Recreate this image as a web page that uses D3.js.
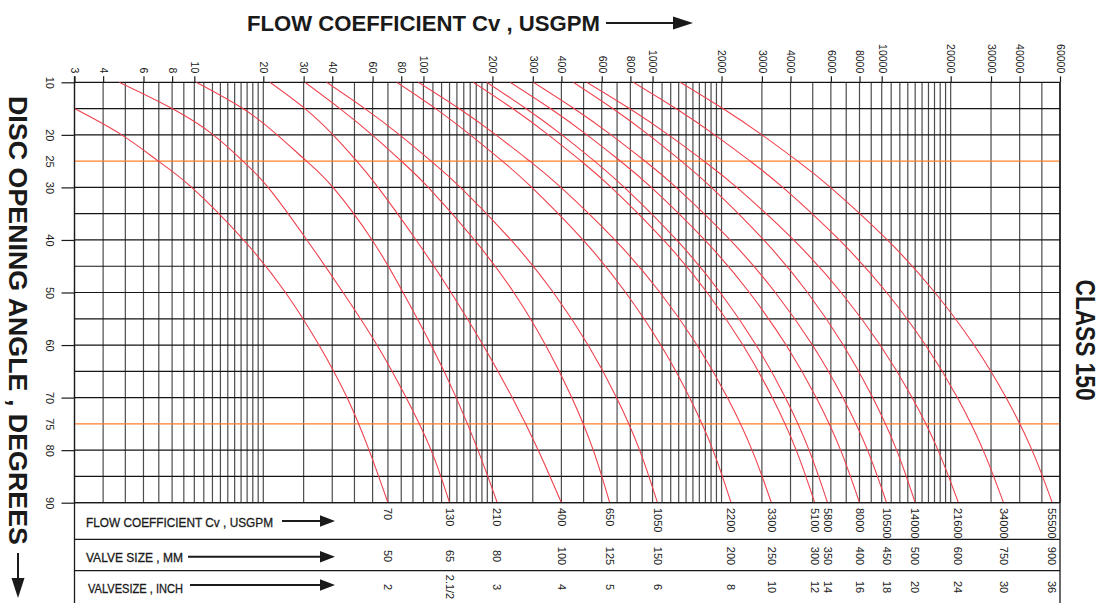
<!DOCTYPE html>
<html><head><meta charset="utf-8">
<script src="https://cdn.jsdelivr.net/npm/d3@7"></script>
<style>
html,body{margin:0;padding:0;background:#fff;}
svg{display:block;}
text{font-family:"Liberation Sans", Arial, Helvetica, sans-serif; fill:#1a1a1a;}
</style></head><body>
<svg id="chart" width="1105" height="603"></svg>
<script>
// ---- data ----
const ANGLES = [10, 15, 20, 25, 30, 40, 50, 60, 70, 80, 90];   // disc opening angle, degrees
// Cv (USGPM) of each valve size at the angles above
const cv70    = [null, 3.0, 4.82, 6.97, 9.74, 16.4, 25.0, 35.0, 46.4, 57.9, 70];
const cv130   = [4.7, 8.0, 12.1, 16.3, 21.0, 31.0, 44.6, 62.7, 84.0, 108, 130];
const cv210   = [10.2, 16.3, 23.0, 30.9, 40.3, 59.7, 81.5, 108, 139, 173, 210];
const cv400   = [21.4, 30.4, 40.3, 51.2, 63.4, 92.9, 132, 182, 244, 317, 400];
const cv650   = [30.4, 43.2, 59.7, 80.1, 105, 167, 248, 341, 444, 551, 650];
const cv1050  = [37.8, 55.5, 78.7, 108, 145, 241, 369, 523, 696, 878, 1050];
const cv2200  = [76.5, 113, 160, 221, 297, 497, 763, 1086, 1450, 1835, 2200];
const cv3300  = [95, 143, 207, 291, 398, 685, 1078, 1563, 2121, 2718, 3300];
const cv5100  = [165, 245, 351, 488, 660, 1115, 1730, 2479, 3330, 4235, 5100];
const cv5800  = [189, 280, 402, 558, 753, 1273, 1973, 2827, 3795, 4821, 5800];
const cv8000  = [239, 358, 517, 724, 987, 1688, 2646, 3826, 5177, 6617, 8000];
const cv10500 = [302, 454, 659, 927, 1267, 2179, 3433, 4984, 6765, 8673, 10500];
const cv14000 = [451, 670, 961, 1336, 1806, 3055, 4745, 6797, 9135, 11620, 14000];
const cv21600 = [516, 793, 1173, 1678, 2331, 4126, 6651, 9842, 13572, 17612, 21600];
const cv34000 = [824, 1264, 1867, 2667, 3702, 6532, 10505, 15533, 21385, 27712, 34000];
const cv55500 = [1320, 2027, 3000, 4300, 5972, 10580, 17067, 25290, 34884, 45304, 55500];
const SERIES = [cv70, cv130, cv210, cv400, cv650, cv1050, cv2200, cv3300, cv5100,
                cv5800, cv8000, cv10500, cv14000, cv21600, cv34000, cv55500];

// bottom table
const CV_FULL   = [70, 130, 210, 400, 650, 1050, 2200, 3300, 5100, 5800, 8000, 10500, 14000, 21600, 34000, 55500];
const SIZE_MM   = ["50","65","80","100","125","150","200","250","300","350","400","450","500","600","750","900"];
const SIZE_INCH = ["2","2.1/2","3","4","5","6","8","10","12","14","16","18","20","24","30","36"];

// axes
const X_TICKS = [3,4,6,8,10,20,30,40,60,80,100,200,300,400,600,800,1000,2000,3000,4000,6000,8000,10000,20000,30000,40000,60000];
const Y_TICKS = [10,20,25,30,40,50,60,70,75,80,90];
const Y_MAJOR = [10,20,30,40,50,60,70,80,90];
const ORANGE_ANGLES = [25, 75];

const TITLE_X = "FLOW COEFFICIENT Cv , USGPM";
const TITLE_Y = "DISC OPENING ANGLE , DEGREES";
const CLASS_LABEL = "CLASS 150";
const ROW_LABELS = ["FLOW COEFFICIENT Cv , USGPM", "VALVE SIZE , MM", "VALVESIZE , INCH"];

// ---- drawing ----
const svg = d3.select("#chart");
const L = 74.5, R = 1060, T = 82.3, B = 502.7;
const ROW1 = 539.3, ROW2 = 570.7, BOTTOM = 603;
const x = d3.scaleLog().domain([3, 60000]).range([L, R]);
const y = d3.scaleLinear().domain([10, 90]).range([T, B]);

const GRID = "#4d4d4d", HGRID = "#151515", RED = "#f0404c", ORANGE = "#ff7f2a", INK = "#1a1a1a";

// vertical grid (log minor lines, finer between 1 and 2 of each decade)
const gridX = [];
[1, 10, 100, 1000, 10000].forEach(dec => {
  for (let k = 1; k <= 9; k++) gridX.push(k * dec);
  for (let k = 11; k <= 19; k++) gridX.push(k * dec / 10);
});
gridX.push(60000);
const gx = gridX.filter(v => v >= 3 && v <= 60000);

svg.append("g").selectAll("line").data(gx).join("line")
  .attr("x1", d => x(d)).attr("x2", d => x(d))
  .attr("y1", T).attr("y2", B)
  .attr("stroke", GRID).attr("stroke-width", 1.2);

// horizontal grid every 5 degrees
const hgrid = d3.range(10, 91, 5);
svg.append("g").selectAll("line").data(hgrid).join("line")
  .attr("x1", L).attr("x2", R)
  .attr("y1", d => y(d)).attr("y2", d => y(d))
  .attr("stroke", d => ORANGE_ANGLES.includes(d) ? ORANGE : HGRID)
  .attr("stroke-width", 1.2);

// top axis
const ax = svg.append("g").attr("transform", `translate(0,${T})`)
  .call(d3.axisTop(x).tickValues(X_TICKS).tickSize(6).tickSizeOuter(0).tickFormat(d3.format("d")));
ax.select(".domain").remove();
ax.selectAll(".tick line").attr("stroke", INK).attr("stroke-width", 1.2);
ax.selectAll(".tick text")
  .attr("transform", "rotate(90)")
  .attr("x", -9).attr("y", 0).attr("dy", "0.35em")
  .attr("text-anchor", "end")
  .style("font-size", "10.5px").style("font-family", "Liberation Sans, Arial, sans-serif").attr("fill", INK);

// left axis
const ay = svg.append("g").attr("transform", `translate(${L},0)`)
  .call(d3.axisLeft(y).tickValues(Y_TICKS).tickSize(13).tickSizeOuter(0));
ay.select(".domain").remove();
ay.selectAll(".tick line").attr("stroke", INK).attr("stroke-width", 1.2)
  .attr("x2", d => Y_MAJOR.includes(d) ? -13 : 0);
ay.selectAll(".tick text")
  .attr("transform", "rotate(90)")
  .attr("x", 0).attr("y", 24.5).attr("dy", "0.35em")
  .attr("text-anchor", "middle")
  .style("font-size", "11px").style("font-family", "Liberation Sans, Arial, sans-serif").attr("fill", INK);

// curves
svg.append("clipPath").attr("id", "plot").append("rect")
  .attr("x", L).attr("y", T).attr("width", R - L).attr("height", B - T);
const line = d3.line()
  .x(d => x(d.cv)).y(d => y(d.a))
  .curve(d3.curveNatural);
svg.append("g").attr("clip-path", "url(#plot)")
  .selectAll("path")
  .data(SERIES.map(s => s.map((v, i) => ({a: ANGLES[i], cv: v})).filter(p => p.cv != null)))
  .join("path")
  .attr("d", line)
  .attr("fill", "none").attr("stroke", RED).attr("stroke-width", 1.1);

// frame and table lines
const frame = svg.append("g").attr("stroke", INK).attr("stroke-width", 1.3);
frame.append("line").attr("x1", L).attr("x2", L).attr("y1", T - 6).attr("y2", BOTTOM);
frame.append("line").attr("x1", R).attr("x2", R).attr("y1", T).attr("y2", BOTTOM);
[B, ROW1, ROW2].forEach(yy => frame.append("line").attr("x1", L).attr("x2", R).attr("y1", yy).attr("y2", yy));

// arrow helper
function arrow(g, x1, y1, x2, y2, head, half) {
  const ang = Math.atan2(y2 - y1, x2 - x1);
  const bx = x2 - head * Math.cos(ang), by = y2 - head * Math.sin(ang);
  g.append("line").attr("x1", x1).attr("y1", y1).attr("x2", bx).attr("y2", by)
    .attr("stroke", INK).attr("stroke-width", 2);
  const px = -Math.sin(ang) * half, py = Math.cos(ang) * half;
  g.append("path").attr("d", `M${x2},${y2}L${bx + px},${by + py}L${bx - px},${by - py}Z`).attr("fill", INK);
}

// table row labels
const rowLabelY = [527, 561.5, 593];
const rowArrowY = [521, 556.7, 585];
const rowArrowX = [282, 188, 190];
const rowLen = [187, 97, 95];
ROW_LABELS.forEach((t, i) => {
  svg.append("text").attr("x", i === 2 ? 88 : 86).attr("y", rowLabelY[i])
    .attr("textLength", rowLen[i]).attr("lengthAdjust", "spacingAndGlyphs")
    .style("font-size", "13px").style("stroke", INK).style("stroke-width", 0.3).text(t);
  arrow(svg, rowArrowX[i], rowArrowY[i], 335, rowArrowY[i], 15, 5.8);
});

// table values
const tv = svg.append("g").style("font-size", "11px");
CV_FULL.forEach((cv, i) => {
  const xx = x(cv);
  tv.append("text").attr("transform", `translate(${xx},508) rotate(90)`)
    .attr("dy", "0.35em").attr("text-anchor", "start").text(d3.format("d")(cv));
  tv.append("text").attr("transform", `translate(${xx},556) rotate(90)`)
    .attr("dy", "0.35em").attr("text-anchor", "middle").text(SIZE_MM[i]);
  tv.append("text").attr("transform", `translate(${xx},587) rotate(90)`)
    .attr("dy", "0.35em").attr("text-anchor", "middle").text(SIZE_INCH[i]);
});

// titles
svg.append("text").attr("x", 247).attr("y", 31)
  .attr("textLength", 353).attr("lengthAdjust", "spacingAndGlyphs")
  .style("font-size", "22px").style("font-weight", "bold").text(TITLE_X);
arrow(svg, 606, 23, 693, 23, 20, 6.5);

svg.append("text").attr("transform", "translate(18,96) rotate(90)")
  .attr("dy", "0.35em").attr("textLength", 449).attr("lengthAdjust", "spacingAndGlyphs")
  .style("font-size", "25px").style("font-weight", "bold").text(TITLE_Y);
arrow(svg, 18, 553, 18, 598, 20, 6.5);

svg.append("text").attr("transform", "translate(1086,340) rotate(90)")
  .attr("dy", "0.35em").attr("text-anchor", "middle")
  .attr("textLength", 121).attr("lengthAdjust", "spacingAndGlyphs")
  .style("font-size", "28px").style("font-weight", "bold").text(CLASS_LABEL);
</script>
</body></html>
